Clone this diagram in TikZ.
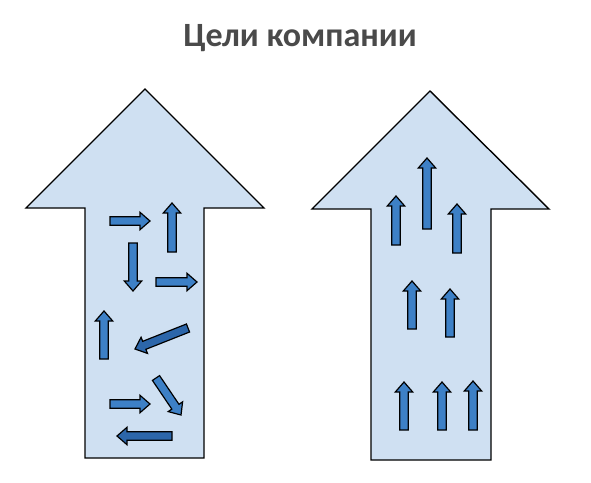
\documentclass[tikz,border=0pt]{standalone}
\usepackage{fontspec}
\setmainfont{Carlito}
\usetikzlibrary{calc}
\definecolor{bigfill}{HTML}{CFE0F2}
\definecolor{smallfill}{HTML}{3D80C6}
\definecolor{darkfill}{HTML}{2C66AA}
\definecolor{titlegray}{HTML}{4A4A4A}
\tikzset{
  bigarrow/.style={fill=bigfill, draw=black, line width=1.4pt, line join=miter},
  smallarr/.style={fill=smallfill, draw=black, line width=1.2pt, line join=miter},
  darkarr/.style={smallarr, fill=darkfill},
}
\newcommand\barr[3][smallarr]{%
  \coordinate (A) at (#2); \coordinate (B) at (#3);
  \coordinate (H) at ($(B)!10pt!(A)$);
  \filldraw[#1] ($(A)!4.3pt!90:(B)$) -- ($(H)!4.3pt!-90:(A)$) -- ($(H)!8.7pt!-90:(A)$) -- (B)
     -- ($(H)!8.7pt!90:(A)$) -- ($(H)!4.3pt!90:(A)$) -- ($(A)!4.3pt!-90:(B)$) -- cycle;
}
\begin{document}
\begin{tikzpicture}[x=1pt,y=-1pt]
\useasboundingbox (0,0) rectangle (591,482);
\fill[white] (0,0) rectangle (591,482);
\node[font=\bfseries\fontsize{34}{40}\selectfont, text=titlegray] (title) at (300,38) {Цели компании};
% left big arrow
\draw[bigarrow] (145,89) -- (264,208) -- (204,208) -- (204,458) -- (85,458) -- (85,208) -- (26,208) -- cycle;
% right big arrow
\draw[bigarrow] (430,91) -- (549,209) -- (491,209) -- (491,460) -- (371,460) -- (371,209) -- (312,209) -- cycle;
% left small arrows
\barr{110,221}{150,221}
\barr{172,252}{172,203}
\barr{133,243}{133,291}
\barr{156,282}{197,282}
\barr{104,359}{104,311}
\barr[darkarr]{188,328}{135,349}
\barr{156,378}{181,415}
\barr{110,404}{150,404}
\barr[darkarr]{172,436}{117,436}
% right small arrows
\barr{396,245}{396,196}
\barr{427,229}{427,158}
\barr{457,253}{457,204}
\barr{412,329}{412,281}
\barr{450,337}{450,289}
\barr{404,430}{404,382}
\barr{442,430}{442,382}
\barr{473,430}{473,381}
\end{tikzpicture}
\end{document}
